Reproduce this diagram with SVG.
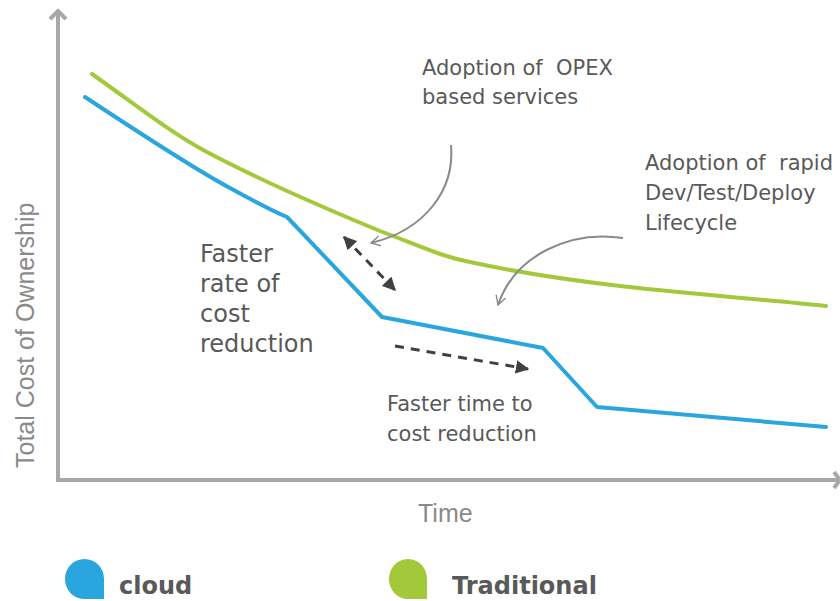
<svg xmlns="http://www.w3.org/2000/svg" width="840" height="601" viewBox="0 0 840 601">
<style>
.ann{font-family:"DejaVu Sans",Verdana,sans-serif;fill:#595959;font-size:21px;white-space:pre}
.big{font-size:24px}
.axl{font-family:"Liberation Sans",Arial,sans-serif;fill:#8a8a8a;font-size:25px}
.leg{font-family:"DejaVu Sans",Verdana,sans-serif;fill:#595959;font-size:24px;font-weight:bold}
.axis{fill:none;stroke:#a8a8ab;stroke-width:4}
.curve{fill:none;stroke-width:4;stroke-linejoin:round;stroke-linecap:round}
.pointer{fill:none;stroke:#8a8a8a;stroke-width:2}
.dash{fill:none;stroke:#404040;stroke-width:3;stroke-dasharray:9,7}
</style>
<defs>
<marker id="tri" viewBox="0 0 10 10" refX="9" refY="5" markerWidth="4.5" markerHeight="4.5" orient="auto-start-reverse" markerUnits="strokeWidth">
<path d="M0,0 L10,5 L0,10 Z" fill="#404040"/>
</marker>
<marker id="open" viewBox="0 0 12 12" refX="10" refY="6" markerWidth="6" markerHeight="6" orient="auto" markerUnits="strokeWidth">
<path d="M1,1 L10,6 L1,11" fill="none" stroke="#8a8a8a" stroke-width="1.4"/>
</marker>
</defs>
<rect width="840" height="601" fill="#ffffff"/>
<g id="axes">
<path class="axis" d="M58,482 L58,11"/>
<path class="axis" d="M50,19 L58,11 L66,19" stroke-width="2.5"/>
<path class="axis" d="M56,480 L838,480"/>
<path class="axis" d="M834,472 L840,480 L834,488" stroke-width="2.5"/>
</g>
<g id="traditional-line">
<path class="curve" stroke="#a2c93a" d="M92,74 C140,108 170,132 205,151 C250,175 300,198 380,231 C420,246 440,256 470,262 C520,273 560,279 620,286 C700,295 760,299 826,306"/>
</g>
<g id="cloud-line">
<path class="curve" stroke="#2aa6df" d="M85,97 C150,140 200,172 230,188 C250,199 268,209 287,217 L382,317 L543,348 L597,407 L826,427"/>
</g>
<g id="connectors">
<path class="pointer" d="M451,145 C455,190 425,230 371,243" marker-end="url(#open)"/>
<path class="pointer" d="M623,238 C570,230 515,255 498,305" marker-end="url(#open)"/>
<path class="dash" d="M344,237 L395,290" marker-start="url(#tri)" marker-end="url(#tri)"/>
<path class="dash" d="M395,346 L528,369" marker-end="url(#tri)"/>
</g>
<g id="label-opex">
<text class="ann" x="422" y="75" xml:space="preserve">Adoption of  OPEX</text>
<text class="ann" x="422" y="104">based services</text>
</g>
<g id="label-rapid">
<text class="ann" x="645" y="170" xml:space="preserve">Adoption of  rapid</text>
<text class="ann" x="645" y="200">Dev/Test/Deploy</text>
<text class="ann" x="645" y="230">Lifecycle</text>
</g>
<g id="label-rate">
<text class="ann big" x="200" y="262">Faster</text>
<text class="ann big" x="200" y="292">rate of</text>
<text class="ann big" x="200" y="322">cost</text>
<text class="ann big" x="200" y="352">reduction</text>
</g>
<g id="label-time">
<text class="ann" x="387" y="411">Faster time to</text>
<text class="ann" x="387" y="441">cost reduction</text>
</g>
<g id="axis-labels">
<text class="axl" x="418" y="522">Time</text>
<text class="axl" transform="translate(34,468) rotate(-90)">Total Cost of Ownership</text>
</g>
<g id="legend-cloud">
<path fill="#2aa6df" d="M65,579 A19.5,20 0 0 1 104,579 L104,599 L84.5,599 A19.5,20 0 0 1 65,579 Z"/>
<text class="leg" x="119" y="594">cloud</text>
</g>
<g id="legend-traditional">
<path fill="#a2c93a" d="M389,579 A19,20 0 0 1 427,579 L427,599 L408,599 A19,20 0 0 1 389,579 Z"/>
<text class="leg" x="452" y="594">Traditional</text>
</g>
</svg>
